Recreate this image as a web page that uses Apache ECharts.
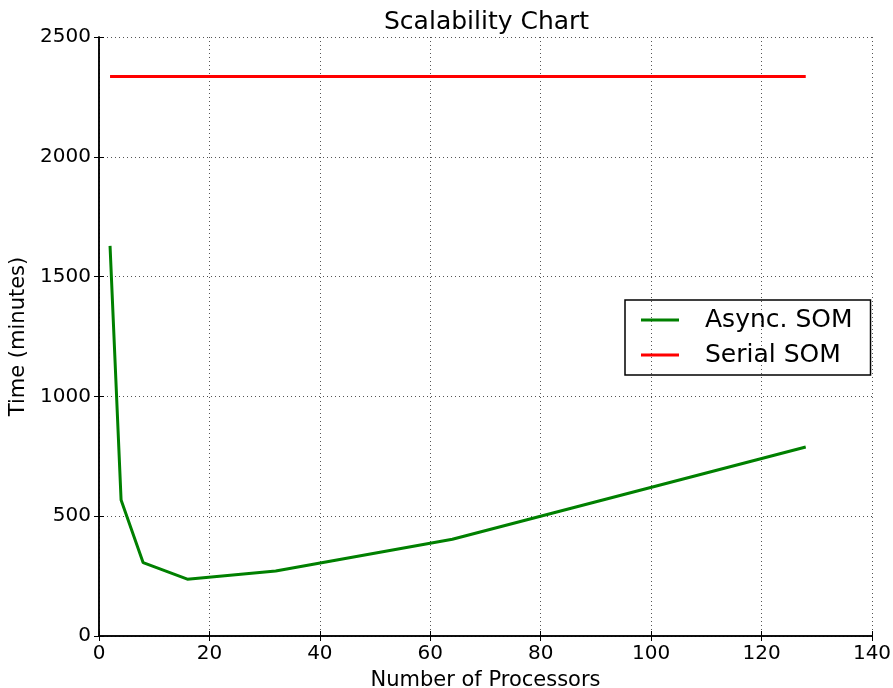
<!DOCTYPE html>
<html>
<head>
<meta charset="utf-8">
<script src="https://cdn.jsdelivr.net/npm/echarts@6/dist/echarts.min.js"></script>
<style>html,body{margin:0;padding:0;background:#fff;}#c{width:893px;height:688px;}</style>
</head>
<body>
<div id="c"></div>
<script>
var processors = [2, 4, 8, 16, 32, 64, 128];
var asyncSOM = [1628, 568, 306, 237, 271, 404, 789];
var serialSOM = [2335, 2335, 2335, 2335, 2335, 2335, 2335];
var xTicks = [0, 20, 40, 60, 80, 100, 120, 140];
var yTicks = [0, 500, 1000, 1500, 2000, 2500];

var font = 'DejaVu Sans';
var chart = echarts.init(document.getElementById('c'));
function pairs(xs, ys) { return xs.map(function (x, i) { return [x, ys[i]]; }); }

var axisLine = { show: true, lineStyle: { color: '#000', width: 1.5 } };
var tick = { show: true, inside: true, length: 5, lineStyle: { color: '#000', width: 1 } };
var grid = { show: true, lineStyle: { color: '#555', width: 1, type: [1, 3] } };

chart.setOption({
  animation: false,
  backgroundColor: '#fff',
  title: {
    text: 'Scalability Chart', left: 379, top: 5,
    textStyle: { fontFamily: font, fontSize: 25, fontWeight: 'normal', color: '#000' }
  },
  grid: { left: 99, right: 21, top: 37, bottom: 52, outerBoundsMode: 'none', containLabel: false },
  legend: {
    orient: 'vertical', left: 625, top: 300,
    padding: [7, 18, 7, 16], itemGap: 9,
    borderColor: '#000', borderWidth: 1.5, borderRadius: 0,
    icon: 'rect', itemWidth: 38, itemHeight: 3,
    textStyle: { fontFamily: font, fontSize: 25, color: '#000', lineHeight: 26, padding: [0, 0, 0, 21] },
    data: ['Async. SOM', 'Serial SOM']
  },
  xAxis: [{
    type: 'value', min: xTicks[0], max: xTicks[xTicks.length - 1], interval: 20,
    name: 'Number of Processors', nameLocation: 'middle', nameGap: 34,
    nameTextStyle: { fontFamily: font, fontSize: 21, color: '#000' },
    axisLine: axisLine, axisTick: tick, splitLine: grid,
    axisLabel: { fontFamily: font, fontSize: 20, color: '#000', margin: 8 }
  }, {
    type: 'value', position: 'top', min: 0, max: 140, interval: 20,
    axisLine: axisLine, axisTick: tick, splitLine: { show: false }, axisLabel: { show: false }
  }],
  yAxis: [{
    type: 'value', min: yTicks[0], max: yTicks[yTicks.length - 1], interval: 500,
    name: 'Time (minutes)', nameLocation: 'middle', nameGap: 63,
    nameTextStyle: { fontFamily: font, fontSize: 21, color: '#000' },
    axisLine: axisLine, axisTick: tick, splitLine: grid,
    axisLabel: { fontFamily: font, fontSize: 20, color: '#000', margin: 8, formatter: function (v) { return String(v); } }
  }, {
    type: 'value', position: 'right', min: 0, max: 2500, interval: 500,
    axisLine: axisLine, axisTick: tick, splitLine: { show: false }, axisLabel: { show: false }
  }],
  series: [{
    name: 'Async. SOM', type: 'line', data: pairs(processors, asyncSOM),
    symbol: 'none', color: '#008000', lineStyle: { width: 3, color: '#008000' }
  }, {
    name: 'Serial SOM', type: 'line', data: pairs(processors, serialSOM),
    symbol: 'none', color: '#ff0000', lineStyle: { width: 3, color: '#ff0000' }
  }]
});
</script>
</body>
</html>
